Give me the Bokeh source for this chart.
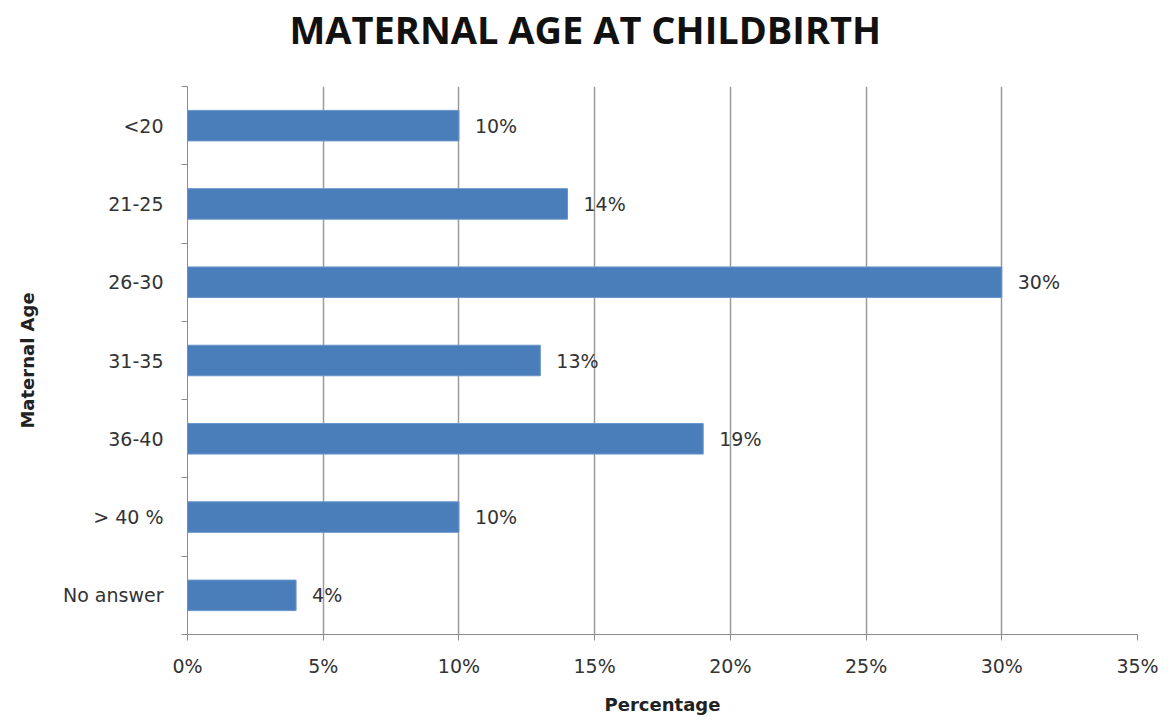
from bokeh.plotting import figure
from bokeh.layouts import column
from bokeh.models import Range1d, FixedTicker, PrintfTickFormatter, ColumnDataSource
from bokeh.core.properties import value
from bokeh.embed import file_html
from bokeh.resources import INLINE

title_text = "MATERNAL AGE AT CHILDBIRTH"
categories = ["<20", "21-25", "26-30", "31-35", "36-40", "> 40 %", "No answer"]
percentages = [10, 14, 30, 13, 19, 10, 4]
x_ticks = [0, 5, 10, 15, 20, 25, 30, 35]

ypos = list(range(len(categories)))
src = ColumnDataSource(dict(
    y=ypos, v=percentages, cat=categories,
    lab=[f"{v}%" for v in percentages],
))

FONT = "DejaVu Sans"
TFONT = "Open Sans"
W = 1173
TOP_H = 86
MAIN_H = 726 - TOP_H

# header figure holding only the title
t = figure(width=W, height=TOP_H, output_backend="svg", toolbar_location=None,
           x_axis_type=None, y_axis_type=None, min_border=0)
t.outline_line_color = None
t.xgrid.grid_line_color = None
t.ygrid.grid_line_color = None
t.title.text = title_text
t.title.text_font = TFONT
t.title.text_font_size = "38px"
t.title.text_font_style = "bold"
t.title.text_color = "#111111"
t.title.align = "left"
t.title.offset = 102
t.title.standoff = 0

p = figure(width=W, height=MAIN_H, output_backend="svg", toolbar_location=None,
           x_range=Range1d(0, 35), y_range=Range1d(len(categories) - 0.5, -0.5),
           min_border_left=187, min_border_right=36, min_border_top=0, min_border_bottom=92)
p.outline_line_color = None
p.background_fill_color = "white"

p.hbar(y="y", right="v", left=0, height=0.39, source=src,
       fill_color="#4A7EBB", line_color="#6A96CC", line_width=1)

p.text(x="v", y="y", text="lab", source=src, x_offset=16,
       text_font=value(FONT), text_font_size="19px", text_color="#333333",
       text_baseline="middle", text_align="left")

# x axis
p.xaxis.ticker = FixedTicker(ticks=x_ticks)
p.xaxis.formatter = PrintfTickFormatter(format="%d%%")
p.xaxis.axis_label = "Percentage"
p.xaxis.axis_label_text_font = FONT
p.xaxis.axis_label_text_font_style = "bold"
p.xaxis.axis_label_text_font_size = "18px"
p.xaxis.axis_label_text_color = "#222222"
p.xaxis.axis_label_standoff = 14
p.xaxis.major_label_text_font = FONT
p.xaxis.major_label_text_font_size = "19px"
p.xaxis.major_label_text_color = "#333333"
p.xaxis.major_label_standoff = 14
p.xaxis.axis_line_color = "#8c8c8c"
p.xaxis.major_tick_line_color = "#8c8c8c"
p.xaxis.major_tick_out = 6
p.xaxis.major_tick_in = 0
p.xaxis.minor_tick_line_color = None

# y axis
boundaries = [i - 0.5 for i in range(len(categories) + 1)]
p.yaxis.ticker = FixedTicker(ticks=ypos, minor_ticks=boundaries)
p.yaxis.major_label_overrides = {i: c for i, c in enumerate(categories)}
p.yaxis.axis_label = "Maternal Age"
p.yaxis.axis_label_text_font = FONT
p.yaxis.axis_label_text_font_style = "bold"
p.yaxis.axis_label_text_font_size = "18px"
p.yaxis.axis_label_text_color = "#222222"
p.yaxis.axis_label_standoff = 22
p.yaxis.major_label_text_font = FONT
p.yaxis.major_label_text_font_size = "19px"
p.yaxis.major_label_text_color = "#333333"
p.yaxis.major_label_standoff = 18
p.yaxis.major_tick_line_color = None
p.yaxis.minor_tick_line_color = "#8c8c8c"
p.yaxis.minor_tick_out = 6
p.yaxis.minor_tick_in = 0
p.yaxis.axis_line_color = "#8c8c8c"

p.xgrid.ticker = FixedTicker(ticks=x_ticks)
p.xgrid.grid_line_color = "#9a9a9a"
p.xgrid.grid_line_width = 1.5
p.ygrid.grid_line_color = None

layout = column(t, p, spacing=0)
open("out.html", "w").write(file_html(layout, INLINE))
